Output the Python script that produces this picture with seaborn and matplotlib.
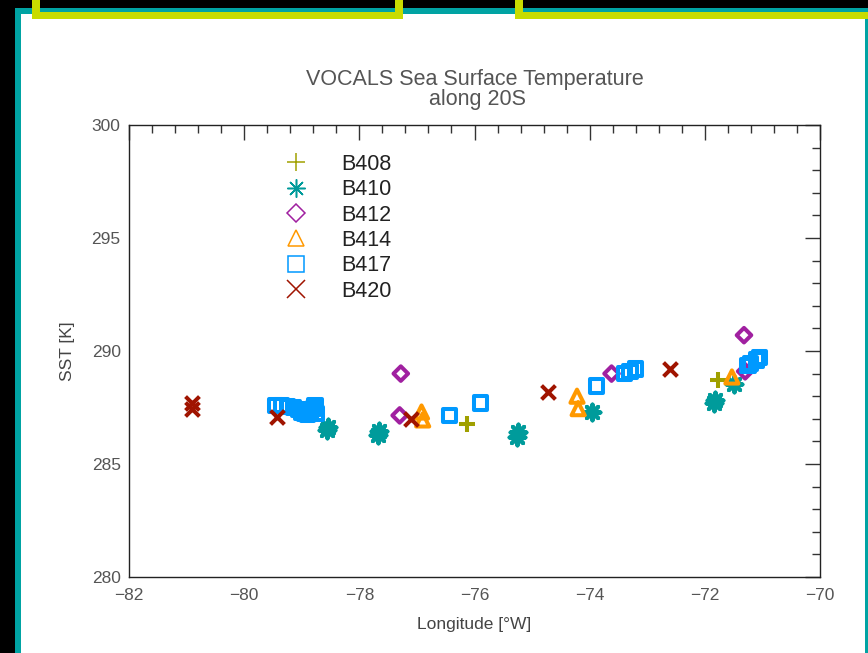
import matplotlib
matplotlib.use("Agg")
import matplotlib.pyplot as plt
from matplotlib.patches import Rectangle
from matplotlib.lines import Line2D
from matplotlib.ticker import MultipleLocator
import seaborn as sns
import pandas as pd

# ---------------- data ----------------
cruises = ["B408", "B410", "B412", "B414", "B417", "B420"]
colors = ["#a0a000", "#009b9b", "#a020a0", "#ff9900", "#0099ff", "#a01400"]

b408_lon = [-76.13, -71.77]
b408_sst = [286.75, 288.7]

b410_lon = [-78.57, -78.55, -77.67, -77.65, -75.27, -75.25, -73.96, -71.84, -71.82, -71.5]
b410_sst = [286.5, 286.65, 286.3, 286.45, 286.2, 286.4, 287.3, 287.7, 287.85, 288.55]

b412_lon = [-77.28, -77.3, -73.62, -71.32, -71.3]
b412_sst = [289.0, 287.15, 289.0, 290.7, 289.1]

b414_lon = [-76.92, -76.9, -74.22, -74.2, -71.53]
b414_sst = [287.3, 286.95, 288.0, 287.45, 288.85]

b417_lon = [-79.45, -79.35, -79.25, -79.15, -79.05, -79.0, -78.95, -78.9, -78.85,
            -78.8, -78.77, -78.75, -76.43, -75.89, -73.88, -73.4, -73.3, -73.2,
            -71.25, -71.2, -71.1, -71.05]
b417_sst = [287.6, 287.6, 287.55, 287.5, 287.4, 287.3, 287.25, 287.2, 287.3,
            287.45, 287.6, 287.25, 287.15, 287.7, 288.45, 289.0, 289.1, 289.2,
            289.35, 289.45, 289.6, 289.7]

b420_lon = [-80.9, -80.9, -79.43, -77.1, -74.73, -72.6]
b420_sst = [287.7, 287.45, 287.1, 287.0, 288.2, 289.2]

x_ticks = [-82, -80, -78, -76, -74, -72, -70]
y_ticks = [280, 285, 290, 295, 300]

title_line1 = "VOCALS Sea Surface Temperature"
title_line2 = "along 20S"
x_label = "Longitude [°W]"
y_label = "SST [K]"

frames = []
for name, lo, ss in [("B408", b408_lon, b408_sst), ("B410", b410_lon, b410_sst),
                     ("B412", b412_lon, b412_sst), ("B414", b414_lon, b414_sst),
                     ("B417", b417_lon, b417_sst), ("B420", b420_lon, b420_sst)]:
    frames.append(pd.DataFrame({"lon": lo, "sst": ss, "cruise": name}))
df = pd.concat(frames, ignore_index=True)

# ---------------- styling ----------------
sns.set_theme(style="white")
plt.rcParams["font.family"] = ["Liberation Sans", "DejaVu Sans"]

W, H = 868, 653
fig = plt.figure(figsize=(W / 100, H / 100), dpi=100)
fig.patch.set_facecolor("black")


def px_rect(x0, y0, x1, y1, color, z=-5):
    fig.add_artist(Rectangle((x0 / W, 1 - y1 / H), (x1 - x0) / W, (y1 - y0) / H,
                             transform=fig.transFigure, facecolor=color,
                             edgecolor="none", zorder=z))


# frame decoration
px_rect(15, 8, 868, 653, "#00a3a3", z=-6)
px_rect(21, 14, 865, 653, "white", z=-5)
yel = "#c8dc00"
px_rect(32, 0, 40, 19, yel, z=-4)
px_rect(395, 0, 403, 19, yel, z=-4)
px_rect(32, 12, 403, 19, yel, z=-4)
px_rect(515, 0, 523, 19, yel, z=-4)
px_rect(515, 12, 868, 19, yel, z=-4)

ax_l, ax_r, ax_t, ax_b = 129, 820, 125, 577
ax = fig.add_axes([ax_l / W, 1 - ax_b / H, (ax_r - ax_l) / W, (ax_b - ax_t) / H])
ax.set_facecolor("white")

markers = {"B408": "+", "B410": (8, 2, 0), "B412": "D", "B414": "^", "B417": "s", "B420": "x"}
sizes = {"B408": 140, "B410": 130, "B412": 55, "B414": 90, "B417": 90, "B420": 100}
filled = {"B408": False, "B410": False, "B412": True, "B414": True, "B417": True, "B420": False}

for name, col in zip(cruises, colors):
    sub = df[df["cruise"] == name]
    kw = dict(marker=markers[name], s=sizes[name], linewidth=2.9, color=col)
    if filled[name]:
        kw.update(facecolor="none", edgecolor=col)
    sns.scatterplot(data=sub, x="lon", y="sst", ax=ax, legend=False, **kw)

ax.set_xlim(-82, -70)
ax.set_ylim(280, 300)
ax.set_xticks(x_ticks)
ax.set_yticks(y_ticks)
ax.xaxis.set_minor_locator(MultipleLocator(0.4))
ax.yaxis.set_minor_locator(MultipleLocator(1))
ax.tick_params(which="both", direction="in", top=True, right=True,
               color="#333333", width=1)
ax.tick_params(which="major", length=11)
ax.tick_params(which="minor", length=6)
ax.tick_params(axis="x", which="major", pad=8, labelsize=12.5, labelcolor="#555555")
ax.tick_params(axis="y", which="major", pad=6, labelsize=12.5, labelcolor="#555555")
for sp in ax.spines.values():
    sp.set_color("#222222")
    sp.set_linewidth(1)

ax.set_xlabel(x_label, fontsize=12.5, color="#444444")
ax.set_ylabel(y_label, fontsize=12.5, color="#444444")
ax.xaxis.set_label_coords(0.5, -(617 - ax_b) / (ax_b - ax_t))
ax.yaxis.set_label_coords(-(ax_l - 75) / (ax_r - ax_l), 0.5)

fig.text(475 / W, 1 - 80 / H, title_line1, ha="center", va="center",
         fontsize=15.5, color="#555555")
fig.text(477 / W, 1 - 100 / H, title_line2, ha="center", va="center",
         fontsize=15.5, color="#555555")

handles = [Line2D([], [], linestyle="none", marker=markers[n],
                  markerfacecolor="none", markeredgecolor=c,
                  markersize=(13 if n in ("B408", "B410", "B420") else 11 if n != "B412" else 9),
                  markeredgewidth=1.1, color=c)
           for n, c in zip(cruises, colors)]
leg = ax.legend(handles, cruises, loc="upper left",
                bbox_to_anchor=((285 - ax_l) / (ax_r - ax_l), 1 - (154 - ax_t) / (ax_b - ax_t)),
                frameon=False, borderpad=0, borderaxespad=0, handlelength=1.0,
                handletextpad=1.6, labelspacing=0.2, fontsize=15.5)
for t in leg.get_texts():
    t.set_color("#222222")

fig.savefig("out.png", dpi=100, facecolor=fig.get_facecolor())
